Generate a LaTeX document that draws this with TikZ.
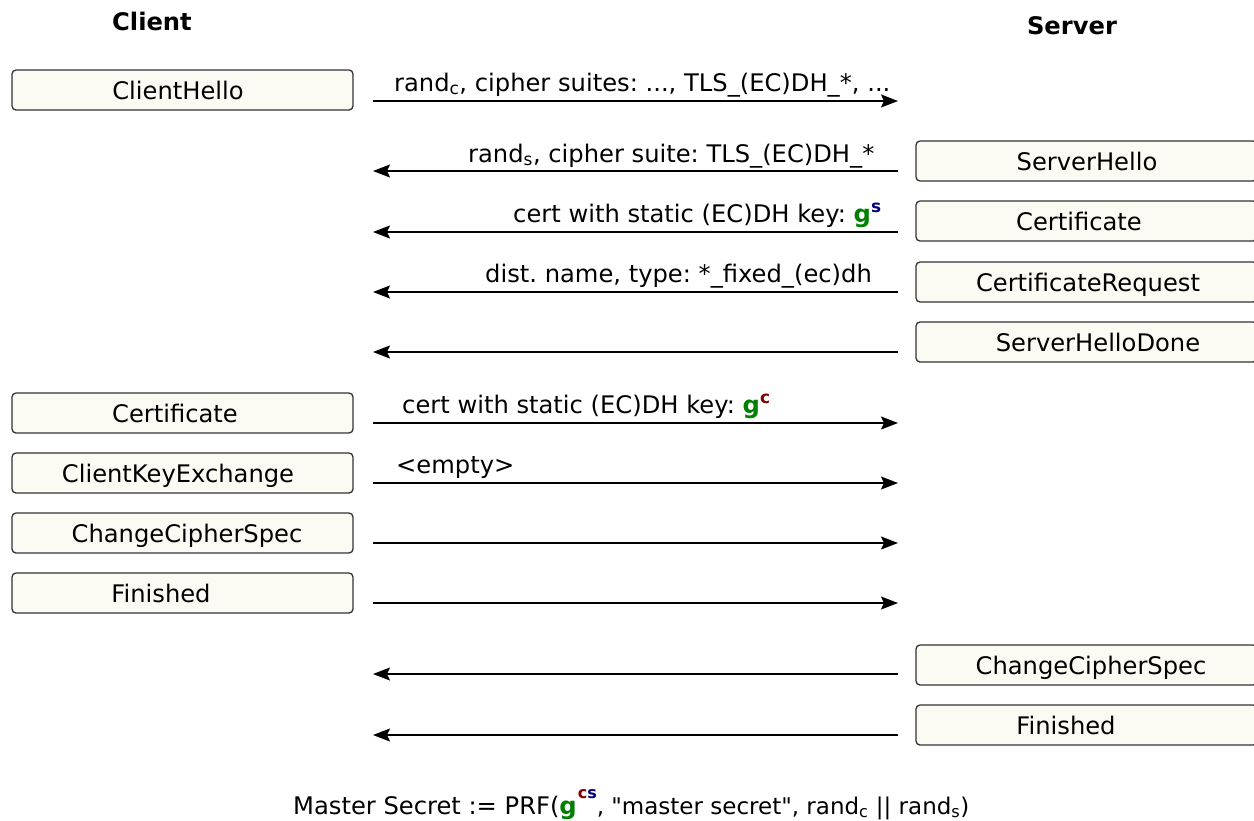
\documentclass[tikz,border=0pt]{standalone}
\usepackage{fontspec}
\setmainfont{DejaVu Sans}[Ligatures=TeXOff]
\usetikzlibrary{arrows.meta}
\definecolor{gG}{HTML}{008000}
\definecolor{sB}{HTML}{000080}
\definecolor{cR}{HTML}{800000}
\definecolor{boxfill}{HTML}{FBFBF4}
\newcommand{\gs}{\textbf{\color{gG}g}\textsuperscript{\textbf{\color{sB}s}}}
\newcommand{\gc}{\textbf{\color{gG}g}\textsuperscript{\textbf{\color{cR}c}}}
\newcommand{\gcs}{\textbf{\color{gG}g}\kern1pt\raisebox{16pt}{\fontsize{16}{17}\selectfont\bfseries\color{cR}c\color{sB}s}}
\begin{document}
\frenchspacing
\begin{tikzpicture}[x=1pt,y=-1pt,
  box/.style={draw=black!80, line width=1.3pt, rounded corners=4pt, fill=boxfill,
    minimum width=341pt, minimum height=40pt, inner sep=0pt},
  boxtxt/.style={anchor=base, inner sep=0pt, font=\fontsize{24.2}{29}\selectfont\frenchspacing},
  head/.style={anchor=center, inner sep=0pt, font=\fontsize{24.2}{29}\selectfont\bfseries},
  lbl/.style={anchor=base west, inner sep=0pt, font=\fontsize{24.2}{29}\selectfont\frenchspacing},
  msg/.style={draw=black, line width=1.5pt, -{Stealth[length=17pt,width=13pt,inset=3pt]}}]
\useasboundingbox[fill=white] (0,0) rectangle (1254,820);

% headers
\node[head] (hc) at (152,21) {Client};
\node[head] (hs) at (1072,26) {Server};

% client boxes
\node[box] (c1) at (182.5,90) {};
\node[boxtxt] (c1t) at (178,99) {ClientHello};
\node[box] (c2) at (182.5,413) {};
\node[boxtxt] (c2t) at (175,422) {Certificate};
\node[box] (c3) at (182.5,473) {};
\node[boxtxt] (c3t) at (178,482) {ClientKeyExchange};
\node[box] (c4) at (182.5,533) {};
\node[boxtxt] (c4t) at (187,542) {ChangeCipherSpec};
\node[box] (c5) at (182.5,593) {};
\node[boxtxt] (c5t) at (161,602) {Finished};

% server boxes
\node[box] (s1) at (1086.5,161) {};
\node[boxtxt] (s1t) at (1087,170) {ServerHello};
\node[box] (s2) at (1086.5,221) {};
\node[boxtxt] (s2t) at (1079,230) {Certificate};
\node[box] (s3) at (1086.5,282) {};
\node[boxtxt] (s3t) at (1088,291) {CertificateRequest};
\node[box] (s4) at (1086.5,342) {};
\node[boxtxt] (s4t) at (1098,351) {ServerHelloDone};
\node[box] (s5) at (1086.5,665) {};
\node[boxtxt] (s5t) at (1091,674) {ChangeCipherSpec};
\node[box] (s6) at (1086.5,725) {};
\node[boxtxt] (s6t) at (1066,734) {Finished};

% arrow end points
\foreach \i/\y in {1/101,2/171,3/232,4/292,5/352,6/423,7/483,8/543,9/603,10/674,11/735}{
  \coordinate (L\i) at (373,\y);
  \coordinate (R\i) at (898,\y);
}
\draw[msg] (L1) -- (R1);
\draw[msg] (R2) -- (L2);
\draw[msg] (R3) -- (L3);
\draw[msg] (R4) -- (L4);
\draw[msg] (R5) -- (L5);
\draw[msg] (L6) -- (R6);
\draw[msg] (L7) -- (R7);
\draw[msg] (L8) -- (R8);
\draw[msg] (L9) -- (R9);
\draw[msg] (R10) -- (L10);
\draw[msg] (R11) -- (L11);

% labels
\node[lbl] (m1) at (394,91) {rand\textsubscript{c}, cipher suites: ..., TLS\_(EC)DH\_*, ...};
\node[lbl] (m2) at (468,162) {rand\textsubscript{s}, cipher suite: TLS\_(EC)DH\_*};
\node[lbl] (m3) at (513,222) {cert with static (EC)DH key: \gs};
\node[lbl] (m4) at (485,282) {dist. name, type: *\_fixed\_(ec)dh};
\node[lbl] (m6) at (402,413) {cert with static (EC)DH key: \gc};
\node[lbl] (m7) at (396,473) {<empty>};

% master secret
\node[lbl] (ms) at (293,814) {Master Secret := PRF(\gcs{\fontsize{23}{28}\selectfont, "master secret", rand\textsubscript{c} || rand\textsubscript{s})}};
\end{tikzpicture}
\end{document}
